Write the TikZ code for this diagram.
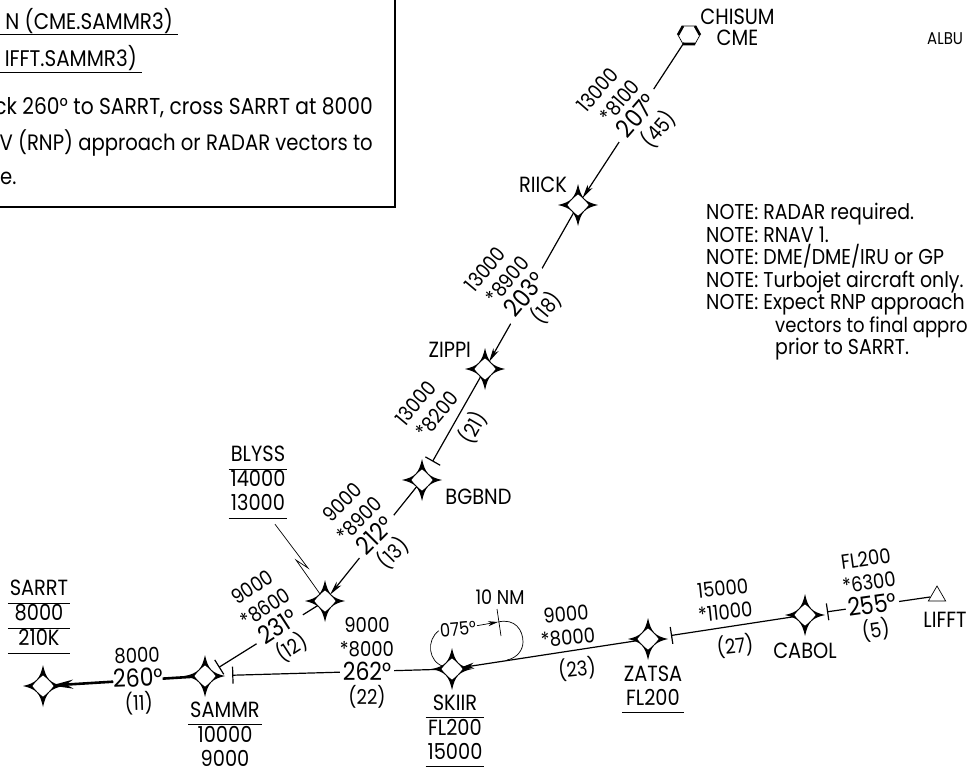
\documentclass[tikz,border=0pt]{standalone}
\usepackage{fontspec}
\setmainfont[FakeStretch=0.88]{Poppins}
\usetikzlibrary{shapes.geometric, arrows.meta, positioning}
\setlength{\arrayrulewidth}{1pt}
\tikzstyle{route} = [line width=1.2pt]
\tikzstyle{inbound} = [route, -{Stealth[length=14pt,width=6pt,inset=4pt]}]
\tikzstyle{ticked} = [route, -{Bar[width=17pt]}]
\tikzstyle{fixpt} = [circle, minimum size=16pt, inner sep=0pt]
\tikzstyle{legtext} = [align=center, inner sep=0pt, font=\fontsize{20.5}{24}\selectfont]
\tikzstyle{leggap} = [legtext, fill=white]
\tikzstyle{fixlabel} = [align=center, inner sep=0pt, font=\fontsize{22}{24}\selectfont]
\tikzstyle{holdline} = [line width=0.7pt]
\newcommand{\hdg}[1]{{\fontsize{25}{24}\selectfont #1}}
\newcommand{\ruled}[1]{\begin{tabular}{@{\hspace{2pt}}c@{\hspace{2pt}}}#1\end{tabular}}
\begin{document}
\begin{tikzpicture}[x=1pt, y=-1pt, node distance=10pt]
  \useasboundingbox (0,0) rectangle (968,771);

  % fixes
  \node (SARRT) [fixpt] at (43,686) {};
  \node (SAMMR) [fixpt] at (205,676) {};
  \node (BLYSS) [fixpt] at (325,601) {};
  \node (BGBND) [fixpt] at (422,480) {};
  \node (ZIPPI) [fixpt] at (485,369) {};
  \node (RIICK) [fixpt] at (578,205) {};
  \node (SKIIR) [fixpt] at (452,669) {};
  \node (ZATSA) [fixpt] at (648,639) {};
  \node (CABOL) [fixpt] at (805,615) {};
  \node (CME) [circle, minimum size=18pt, inner sep=0pt] at (689,35) {};
  \node (LIFFT) [regular polygon, regular polygon sides=3, draw, fill=white, line width=0.7pt, minimum size=20pt, inner sep=0pt] at (937,596) {};

  % route
  \draw [inbound] (CME) -- (RIICK);
  \draw [inbound] (RIICK) -- (ZIPPI);
  \draw [ticked, shorten >=13pt] (ZIPPI) -- (BGBND);
  \draw [inbound] (BGBND) -- (BLYSS);
  \draw [ticked, shorten >=8pt] (BLYSS) -- (SAMMR);
  \draw [line width=2.6pt, -{Stealth[length=22pt,width=9pt,inset=7pt]}] (SAMMR) -- (SARRT);
  \draw [ticked, shorten >=15pt] (CABOL) -- (ZATSA);
  \draw [inbound] (ZATSA) -- (SKIIR);
  \draw [ticked, shorten >=14pt] (LIFFT) -- (CABOL);

  % leg data
  \node (leg207) [leggap, rotate=49] at (630,110) {13000\hspace*{12pt}\\*8100\hspace*{4pt}\\\hdg{207°}\\\hspace*{8pt}(45)};
  \node (leg203) [leggap, rotate=50] at (518,289) {13000\hspace*{12pt}\\*8900\hspace*{4pt}\\\hdg{203°}\\\hspace*{8pt}(18)};
  \node (leg212) [leggap, rotate=45] at (369,529) {9000\\*8900\\\hdg{212°}\\(13)};
  \node (leg231) [leggap, rotate=33] at (273,619) {9000\\*8600\\\hdg{231°}\\(12)};
  \node (leg260) [leggap, rotate=2] at (138,681) {8000\\\hdg{260°}\\(11)};
  \node (leg255) [leggap, rotate=8] at (871,596) {FL200\\*6300\\\hdg{255°}\\(5)};
  \draw [ticked, shorten >=19pt] (SKIIR) -- (SAMMR);
  \node (leg262) [leggap] at (367,663) {9000\\*8000\\\hdg{262°}\\(22)};
  \node (leg8200) [legtext, rotate=50] at (428,407) {13000\hspace*{10pt}\\*8200};
  \node (dist21) [legtext, rotate=60] at (473,428) {(21)};
  \node (leg8000) [legtext, rotate=5] at (567,626) {9000\\*8000};
  \node (dist23) [legtext, rotate=6] at (577,669) {(23)};
  \node (leg11000) [legtext, rotate=6] at (724,600) {15000\\*11000};
  \node (dist27) [legtext, rotate=6] at (735,646) {(27)};

  % holding pattern
  \node (hold075) [font=\fontsize{18.5}{20}\selectfont, inner sep=1pt, rotate=5] at (458,629) {075°};
  \node (hold10) [font=\fontsize{20}{20}\selectfont, inner sep=0pt] at (500,597) {10 NM};
  \coordinate (holdtop) at (498,622);
  \coordinate (holdend) at (507,660);
  \draw [holdline] (SKIIR) .. controls (428,662) and (426,640) .. (hold075.west);
  \draw [holdline, -{Stealth[length=10pt,width=5pt]}] (hold075) -- (holdtop);
  \draw [holdline] (holdtop) .. controls (515,618) and (523,630) .. (523,642) .. controls (523,650) and (517,658) .. (holdend);
  \draw [holdline] (497,609) -- (501,636);

  % fix symbols
  \foreach \fixname in {SARRT,SAMMR,BLYSS,BGBND,ZIPPI,RIICK,SKIIR,ZATSA,CABOL} {
    \fill [shift={(\fixname.center)}] (0,-21) .. controls (3,-7) and (7,-3) .. (20,0) .. controls (7,3) and (3,7) .. (0,21) .. controls (-3,7) and (-7,3) .. (-20,0) .. controls (-7,-3) and (-3,-7) .. (0,-21) -- cycle;
    \fill [white, shift={(\fixname.center)}] (0,-10.5) .. controls (3.5,-8) and (8,-3.5) .. (10.5,0) .. controls (8,3.5) and (3.5,8) .. (0,10.5) .. controls (-3.5,8) and (-8,3.5) .. (-10.5,0) .. controls (-8,-3.5) and (-3.5,-8) .. (0,-10.5) -- cycle;
  }
  \draw [shift={(CME.center)}, line width=0.7pt] (-11,0) -- (-6,-9) -- (6,-9) -- (11,0) -- (6,9) -- (-6,9) -- cycle;
  \draw [shift={(CME.center)}, line width=2.6pt] (-6,9) -- (6,9) (-11,0) -- (-6,-9) (11,0) -- (6,-9);

  % fix labels
  \node (lblSARRT) [fixlabel, above=23.5pt of SARRT, xshift=-4pt] {\ruled{SARRT\\\hline 8000\\\hline 210K\\\hline}};
  \node (lblSAMMR) [fixlabel, below=16pt of SAMMR, xshift=20pt] {\ruled{SAMMR\\\hline 10000\\9000}};
  \node (lblSKIIR) [fixlabel, below=16pt of SKIIR, xshift=3pt] {\ruled{SKIIR\\\hline FL200\\15000\\\hline}};
  \node (lblZATSA) [fixlabel, below=17pt of ZATSA, xshift=5pt] {\ruled{ZATSA\\FL200\\\hline}};
  \node (lblBLYSS) [fixlabel] at (258,482) {\ruled{BLYSS\\\hline 14000\\13000\\\hline}};
  \node (lblCABOL) [fixlabel, below=20pt of CABOL] {CABOL};
  \node (lblLIFFT) [fixlabel, below=11pt of LIFFT, xshift=8pt] {LIFFT};
  \node (lblBGBND) [fixlabel, right=15pt of BGBND, yshift=-17pt] {BGBND};
  \node (lblZIPPI) [fixlabel, above left=6pt and 8pt of ZIPPI] {ZIPPI};
  \node (lblRIICK) [fixlabel, above left=6pt and 5pt of RIICK] {RIICK};
  \node (lblCME) [fixlabel, right=2pt of CME, yshift=8pt, font=\fontsize{22}{21}\selectfont] {CHISUM\\CME};
  \draw [holdline] (lblBLYSS.south) ++(17,5) -- (308,568) -- (296,560) -- (BLYSS);

  % notes
  \node (notes) [anchor=north west, align=left, inner sep=0pt, font=\fontsize{21.5}{22.5}\selectfont] at (706,203) {NOTE: RADAR required.\\NOTE: RNAV 1.\\NOTE: DME/DME/IRU or GP\\NOTE: Turbojet aircraft only.\\NOTE: Expect RNP approach\\\hspace*{69pt}{\fontsize{20.5}{22.5}\selectfont vectors to final appro}\\\hspace*{69pt}prior to SARRT.};
  \node (city) [anchor=west, inner sep=0pt, font=\fontsize{17}{18}\selectfont] at (927,39) {ALBU};

  % procedure box
  \draw [line width=2pt] (395,0) -- (395,207) -- (0,207);
  \node (title1) [anchor=east, inner sep=0pt, font=\fontsize{22.6}{23}\selectfont] at (173,21) {N (CME.SAMMR3)};
  \node (title2) [anchor=east, inner sep=0pt, font=\fontsize{22.6}{23}\selectfont] at (137,58) {IFFT.SAMMR3)};
  \draw [line width=1pt] (0,34) -- (178,34);
  \draw [line width=1pt] (0,72) -- (142,72);
  \node (text1) [anchor=east, inner sep=0pt, font=\fontsize{23}{23}\selectfont] at (373,108) {ck 260° to SARRT, cross SARRT at 8000};
  \node (text2) [anchor=east, inner sep=0pt, font=\fontsize{22.3}{23}\selectfont] at (373,143) {V (RNP) approach or RADAR vectors to};
  \node (text3) [anchor=west, inner sep=0pt, font=\fontsize{22.3}{23}\selectfont] at (0,178) {e.};
\end{tikzpicture}
\end{document}
